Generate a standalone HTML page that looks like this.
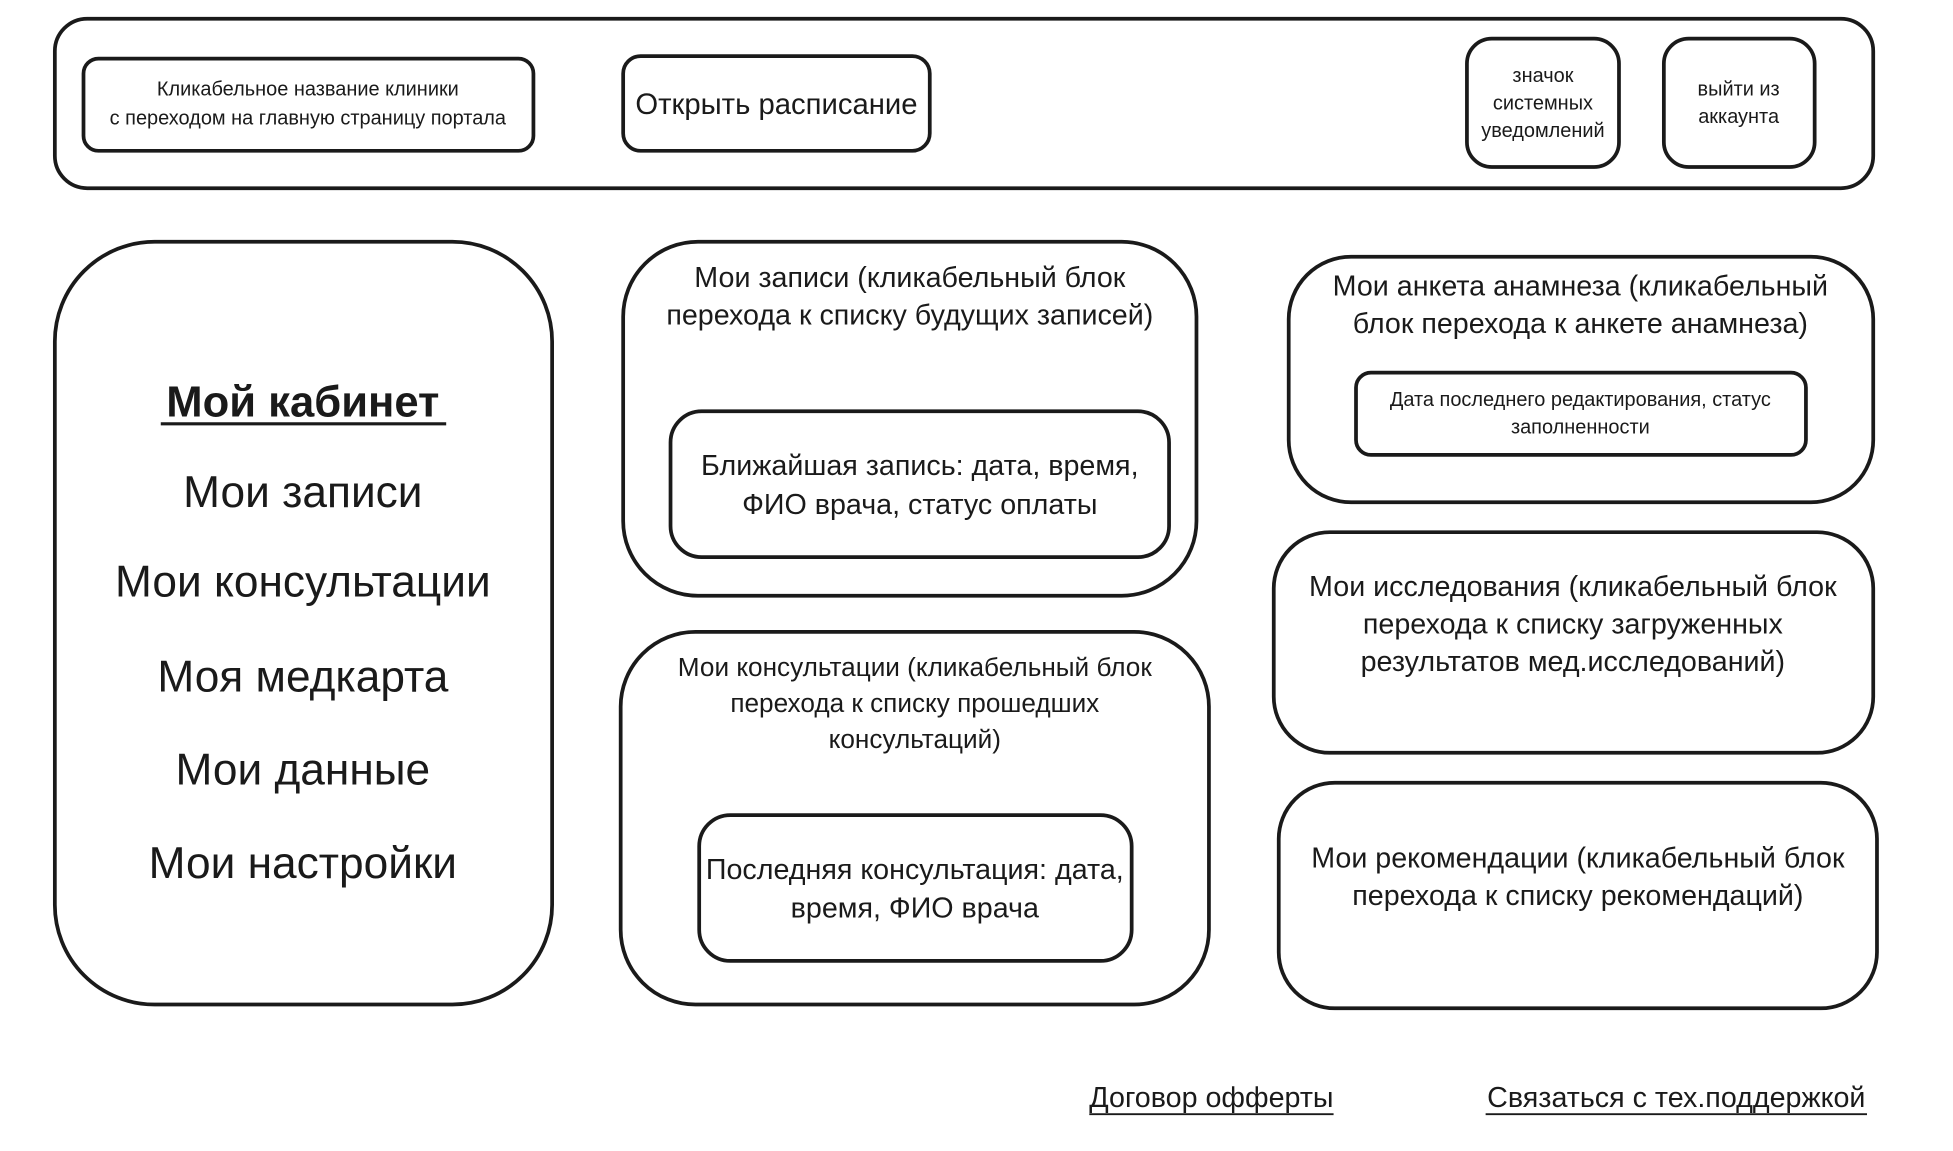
<!DOCTYPE html>
<html><head><meta charset="utf-8"><style>
html,body{margin:0;padding:0;background:#fff;}
svg{display:block;}
text{font-family:"Liberation Sans","DejaVu Sans",sans-serif;fill:#1a1a1a;text-anchor:middle;dominant-baseline:central;}
rect{fill:none;stroke:#1a1a1a;stroke-width:3;}
</style></head><body>
<svg width="1953" height="1151" viewBox="0 0 1567 923.5" xmlns="http://www.w3.org/2000/svg">
<rect x="44" y="15" width="1459" height="136" rx="26"/>
<rect x="67" y="47" width="361" height="74" rx="12"/>
<text x="247" y="72" font-size="16">Кликабельное название клиники</text>
<text x="247" y="95" font-size="16">с переходом на главную страницу портала</text>
<rect x="500" y="45" width="246" height="76" rx="14"/>
<text x="623" y="84" font-size="23.5">Открыть расписание</text>
<rect x="1177" y="31" width="122" height="103" rx="20"/>
<text x="1238" y="61" font-size="16">значок</text>
<text x="1238" y="83" font-size="16">системных</text>
<text x="1238" y="105" font-size="16">уведомлений</text>
<rect x="1335" y="31" width="121" height="103" rx="20"/>
<text x="1395" y="72" font-size="16">выйти из</text>
<text x="1395" y="94" font-size="16">аккаунта</text>

<rect x="44" y="194" width="399" height="612" rx="80"/>
<text x="243" y="323" font-size="35" font-weight="bold">Мой кабинет</text>
<line x1="129" y1="340" x2="358" y2="340" stroke="#1a1a1a" stroke-width="2.5"/>
<text x="243" y="395" font-size="35.5">Мои записи</text>
<text x="243" y="467" font-size="35.5">Мои консультации</text>
<text x="243" y="543" font-size="35.5">Моя медкарта</text>
<text x="243" y="618" font-size="35.5">Мои данные</text>
<text x="243" y="693" font-size="35.5">Мои настройки</text>

<rect x="500" y="194" width="460" height="284" rx="60"/>
<text x="730" y="223" font-size="23">Мои записи (кликабельный блок</text>
<text x="730" y="253" font-size="23">перехода к списку будущих записей)</text>
<rect x="538" y="330" width="400" height="117" rx="25"/>
<text x="738" y="374" font-size="23">Ближайшая запись: дата, время,</text>
<text x="738" y="405" font-size="23">ФИО врача, статус оплаты</text>

<rect x="498" y="507" width="472" height="299" rx="60"/>
<text x="734" y="535" font-size="21">Мои консультации (кликабельный блок</text>
<text x="734" y="564" font-size="21">перехода к списку прошедших</text>
<text x="734" y="593" font-size="21">консультаций)</text>
<rect x="561" y="654" width="347" height="117" rx="25"/>
<text x="734" y="698" font-size="23">Последняя консультация: дата,</text>
<text x="734" y="729" font-size="23">время, ФИО врача</text>

<rect x="1034" y="206" width="469" height="197" rx="50"/>
<text x="1268" y="230" font-size="23">Мои анкета анамнеза (кликабельный</text>
<text x="1268" y="260" font-size="23">блок перехода к анкете анамнеза)</text>
<rect x="1088" y="299" width="361" height="66" rx="12"/>
<text x="1268" y="321" font-size="16">Дата последнего редактирования, статус</text>
<text x="1268" y="343" font-size="16">заполненности</text>

<rect x="1022" y="427" width="481" height="177" rx="45"/>
<text x="1262" y="471" font-size="23">Мои исследования (кликабельный блок</text>
<text x="1262" y="501" font-size="23">перехода к списку загруженных</text>
<text x="1262" y="531" font-size="23">результатов мед.исследований)</text>

<rect x="1026" y="628" width="480" height="181" rx="45"/>
<text x="1266" y="689" font-size="23">Мои рекомендации (кликабельный блок</text>
<text x="1266" y="719" font-size="23">перехода к списку рекомендаций)</text>

<text x="972" y="881" font-size="23">Договор офферты</text>
<line x1="874" y1="894" x2="1070" y2="894" stroke="#1a1a1a" stroke-width="1.5"/>
<text x="1345" y="881" font-size="23">Связаться с тех.поддержкой</text>
<line x1="1192" y1="894" x2="1498" y2="894" stroke="#1a1a1a" stroke-width="1.5"/>
</svg>
</body></html>
